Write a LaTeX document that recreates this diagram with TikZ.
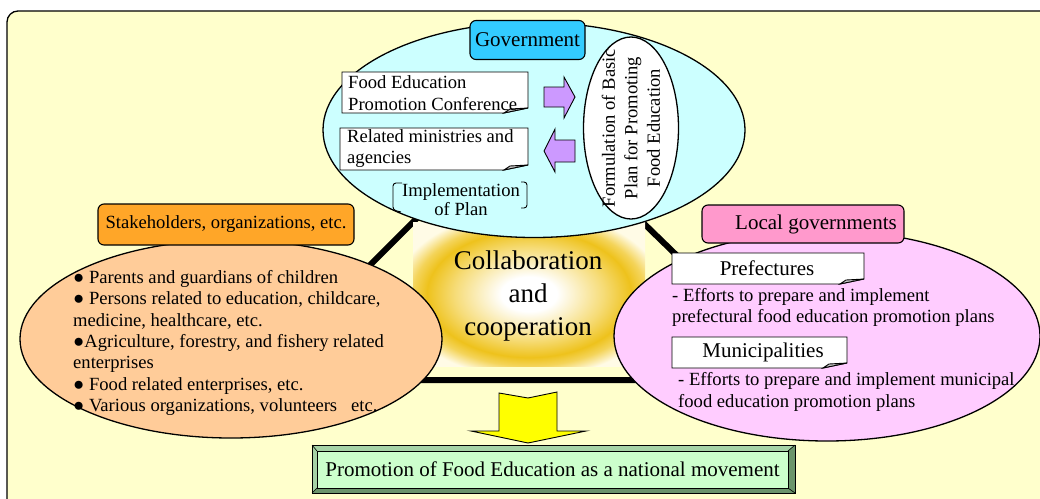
\documentclass[tikz,border=0pt]{standalone}
\usepackage{fontspec}
\setmainfont{Liberation Serif}
\usetikzlibrary{shapes.geometric,calc}
\definecolor{frameyellow}{HTML}{FFFFCC}
\definecolor{govfill}{HTML}{CCFFFF}
\definecolor{govblue}{HTML}{33CCFF}
\definecolor{stakefill}{HTML}{FFCC99}
\definecolor{stakeorange}{HTML}{FFA628}
\definecolor{localfill}{HTML}{FFCCFF}
\definecolor{localpink}{HTML}{FF99CC}
\definecolor{arrowpurple}{HTML}{CC99FF}
\definecolor{glowgold}{HTML}{EEC21C}
\definecolor{glowmid}{HTML}{F6DC78}
\definecolor{glowedge}{HTML}{F4D45A}
\definecolor{glowpale}{HTML}{FFFBE6}
\definecolor{promogreen}{HTML}{CCFFCC}
\definecolor{bevellight}{HTML}{A6D2A6}
\definecolor{beveldark}{HTML}{6B946B}
\definecolor{foldgray}{HTML}{C8C8C8}
\definecolor{arrowyellow}{HTML}{FFFF00}
\pgfdeclareradialshading{glowshade}{\pgfpoint{0bp}{0bp}}{%
 color(0bp)=(white); color(6bp)=(white); color(16bp)=(glowmid); color(22bp)=(glowgold); color(25bp)=(glowedge); color(29bp)=(glowpale); color(50bp)=(glowpale)}
\newcommand{\foldbox}[2]{%
 \draw[boxline, fill=white] (#1) -- (#1 -| #2) -- ($(#2)+(0,-5)$) -- ($(#2)+(-24,0)$) -- (#2 -| #1) -- cycle;
 \draw[boxline, fill=foldgray] ($(#2)+(0,-5)$) -- ($(#2)+(-24,0)$) -- ($(#2)+(-18,-4)$) -- cycle;}
\begin{document}
\begin{tikzpicture}[x=1pt,y=-1pt,
  boxline/.style={line width=0.9pt, draw=black},
  bodyfont/.style={font=\fontsize{18.6}{21.3}\selectfont},
  labelfont/.style={font=\fontsize{21}{25}\selectfont},
  ovalshape/.style={ellipse, draw, line width=1.3pt, inner sep=0pt},
  tagbox/.style={rectangle, rounded corners=6pt, draw, line width=1.1pt, inner sep=0pt},
  plaintext/.style={inner sep=0pt, bodyfont},
  blockarrow/.style={draw, line width=0.9pt, line join=miter}]
\useasboundingbox (0,0) rectangle (1040,498);
\fill[white] (0,0) rectangle (1040,498);
% frame
\draw[fill=frameyellow, line width=1.3pt, rounded corners=11pt] (7,11) rectangle (1052,510);
% triangle of links
\coordinate (apex) at (526,109);
\coordinate (leftcorner) at (255,380);
\coordinate (rightcorner) at (805,380);
\draw[line width=6pt, line join=miter] (apex) -- (leftcorner) -- (rightcorner) -- cycle;
% glow
\shade[shading=glowshade] (413,222) rectangle (645,366);
% government
\node[ovalshape, fill=govfill, minimum width=422pt, minimum height=215pt] (gov) at (534,130) {};
\node[tagbox, fill=govblue, minimum width=115pt, minimum height=39pt, labelfont] (govlabel) at (527.5,40) {Government};
\coordinate (fecA) at (342,72); \coordinate (fecB) at (528,113);
\foldbox{fecA}{fecB}
\node[plaintext, anchor=west, align=left] (fec) at (348,93) {Food Education\\Promotion Conference};
\coordinate (rmaA) at (340,128); \coordinate (rmaB) at (528,170);
\foldbox{rmaA}{rmaB}
\node[plaintext, anchor=west, align=left] (rma) at (347,148.5) {Related ministries and\\agencies};
\node[plaintext, align=center, font=\fontsize{18.6}{19.5}\selectfont] (impl) at (461,199.5) {Implementation\\of Plan};
\draw[line width=0.9pt, rounded corners=3pt] (402,183) -- (393,183) -- (393,210) -- (401,212);
\draw[line width=0.9pt, rounded corners=3pt] (521,182) -- (527,182) -- (527,208) -- (521,208);
\node[ovalshape, fill=white, minimum width=95pt, minimum height=182pt] (plan) at (631,128) {};
\node[plaintext, rotate=90, align=center, font=\fontsize{18.6}{22.5}\selectfont] (plantext) at (plan.center) {Formulation of Basic\\Plan for Promoting\\Food Education};
\draw[blockarrow, fill=arrowpurple] (544,87) -- (564,87) -- (564,77) -- (575,97) -- (564,118) -- (564,107) -- (544,107) -- cycle;
\draw[blockarrow, fill=arrowpurple] (575,140) -- (555,140) -- (555,129) -- (544,151) -- (555,172) -- (555,162) -- (575,162) -- cycle;
% stakeholders
\node[ovalshape, fill=stakefill, minimum width=422pt, minimum height=198pt] (stake) at (231,339) {};
\node[tagbox, fill=stakeorange, minimum width=256pt, minimum height=41pt, bodyfont] (stakelabel) at (226,224.5) {Stakeholders, organizations, etc.};
\node[plaintext, anchor=west, align=left] (stakelist) at (73,343) {● Parents and guardians of children\\● Persons related to education, childcare,\\medicine, healthcare, etc.\\●Agriculture, forestry, and fishery related\\enterprises\\● Food related enterprises, etc.\\● Various organizations, volunteers\ \ \ etc.};
% local governments
\node[ovalshape, fill=localfill, minimum width=426pt, minimum height=210pt] (local) at (827,336) {};
\node[tagbox, fill=localpink, minimum width=202pt, minimum height=38pt, labelfont] (locallabel) at (803,224) {\hspace*{26pt}Local governments};
\coordinate (prefA) at (672,253); \coordinate (prefB) at (864,284);
\foldbox{prefA}{prefB}
\node[inner sep=0pt, labelfont] (pref) at (767,268.5) {Prefectures};
\node[plaintext, anchor=west, align=left] (preftext) at (672,307.5) {- Efforts to prepare and implement\\prefectural food education promotion plans};
\coordinate (muniA) at (672,337); \coordinate (muniB) at (847,368);
\foldbox{muniA}{muniB}
\node[inner sep=0pt, labelfont] (muni) at (763,352.5) {Municipalities};
\node[plaintext, anchor=west, align=left] (munitext) at (678,392) {- Efforts to prepare and implement municipal\\food education promotion plans};
% centre text
\node[inner sep=0pt, align=center, font=\fontsize{27}{32.5}\selectfont] (collab) at (528,296) {Collaboration\\and\\cooperation};
% down arrow
\draw[blockarrow, fill=arrowyellow] (499,393) -- (528,398) -- (557,392) -- (557,431) -- (586,431) -- (528,443) -- (471,431) -- (499,431) -- cycle;
% result box
\fill[bevellight] (312,445) rectangle (795,493);
\fill[beveldark] (795,445) -- (795,493) -- (312,493) -- (317,488) -- (788,488) -- (788,451) -- cycle;
\draw[line width=0.8pt] (312,445) rectangle (795,493);
\draw[line width=0.6pt] (312,445) -- (317,451) (795,445) -- (788,451) (312,493) -- (317,488) (795,493) -- (788,488);
\node[draw, line width=0.8pt, fill=promogreen, minimum width=471pt, minimum height=37pt, inner sep=0pt, labelfont] (promo) at (552.5,469.5) {Promotion of Food Education as a national movement};
\end{tikzpicture}
\end{document}
